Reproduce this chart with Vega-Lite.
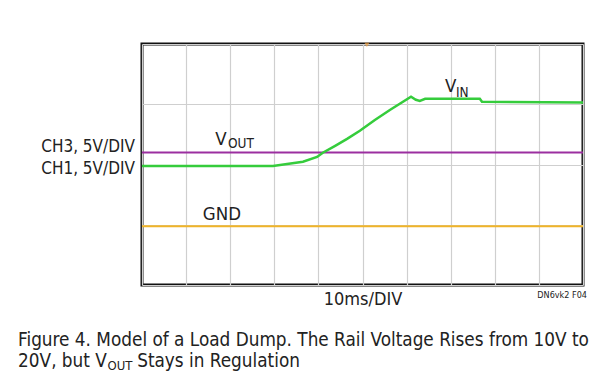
{
  "$schema": "https://vega.github.io/schema/vega-lite/v6.json",
  "width": 441,
  "height": 241,
  "autosize": {"type": "none"},
  "padding": {"left": 142, "top": 44, "right": 24, "bottom": 105},
  "background": "white",
  "config": {
    "view": {"stroke": "#111111", "strokeWidth": 3},
    "text": {"font": "'DejaVu Sans Condensed', 'Liberation Sans Narrow', sans-serif", "color": "#222222", "baseline": "alphabetic"}
  },
  "datasets": {
    "vin": [
      {"t": 0, "v": 3.95}, {"t": 2.97, "v": 3.95}, {"t": 3.29, "v": 4.02}, {"t": 3.65, "v": 4.09},
      {"t": 3.97, "v": 4.25}, {"t": 4.10, "v": 4.39}, {"t": 4.38, "v": 4.62}, {"t": 4.65, "v": 4.85},
      {"t": 4.94, "v": 5.12}, {"t": 5.28, "v": 5.48}, {"t": 5.62, "v": 5.81}, {"t": 6.10, "v": 6.25},
      {"t": 6.21, "v": 6.15}, {"t": 6.30, "v": 6.11}, {"t": 6.42, "v": 6.18}, {"t": 7.66, "v": 6.18},
      {"t": 7.71, "v": 6.08}, {"t": 10, "v": 6.06}
    ],
    "levels": [
      {"trace": "VOUT", "level": 4.4},
      {"trace": "GND", "level": 1.95}
    ],
    "trigger": [
      {"t": 5.1, "v": 7.97}
    ],
    "notes": [
      {"role": "channel", "x": -0.16, "y": 4.42, "text": "CH3, 5V/DIV"},
      {"role": "channel", "x": -0.16, "y": 3.69, "text": "CH1, 5V/DIV"},
      {"role": "label", "x": 1.66, "y": 4.65, "text": "V"},
      {"role": "sub", "x": 1.95, "y": 4.55, "text": "OUT"},
      {"role": "label", "x": 6.87, "y": 6.41, "text": "V"},
      {"role": "sub", "x": 7.12, "y": 6.25, "text": "IN"},
      {"role": "label", "x": 1.38, "y": 2.16, "text": "GND"},
      {"role": "axis", "x": 5.01, "y": -0.66, "text": "10ms/DIV"},
      {"role": "code", "x": 10.09, "y": -0.43, "text": "DN6vk2 F04"},
      {"role": "caption", "x": -2.81, "y": -2.03, "text": "Figure 4. Model of a Load Dump. The Rail Voltage Rises from 10V to"},
      {"role": "caption", "x": -2.81, "y": -2.72, "text": "20V, but V"},
      {"role": "capsub", "x": -0.78, "y": -2.82, "text": "OUT"},
      {"role": "caption", "x": -0.11, "y": -2.72, "text": "Stays in Regulation"}
    ]
  },
  "layer": [
    {
      "data": {"name": "levels"},
      "mark": {"type": "rule", "strokeWidth": 2},
      "encoding": {
        "y": {
          "field": "level", "type": "quantitative",
          "scale": {"domain": [0, 8], "nice": false, "zero": false},
          "axis": {"values": [0, 1, 2, 3, 4, 5, 6, 7, 8], "grid": true, "gridColor": "#cfcfcf", "gridWidth": 1.2, "labels": false, "ticks": false, "domain": false, "title": null}
        },
        "color": {
          "field": "trace", "type": "nominal",
          "scale": {"domain": ["VOUT", "GND"], "range": ["#9b2fa0", "#f0b428"]},
          "legend": null
        }
      }
    },
    {
      "data": {"name": "vin"},
      "mark": {"type": "line", "color": "#35cc3c", "strokeWidth": 2.5, "interpolate": "linear"},
      "encoding": {
        "x": {
          "field": "t", "type": "quantitative",
          "scale": {"domain": [0, 10], "nice": false, "zero": false},
          "axis": {"values": [0, 1, 2, 3, 4, 5, 6, 7, 8, 9, 10], "grid": true, "gridColor": "#cfcfcf", "gridWidth": 1.2, "labels": false, "ticks": false, "domain": false, "title": null}
        },
        "y": {"field": "v", "type": "quantitative"}
      }
    },
    {
      "data": {"name": "trigger"},
      "mark": {"type": "point", "shape": "triangle-down", "filled": true, "size": 25, "color": "#f0a040", "opacity": 0.7},
      "encoding": {"x": {"field": "t", "type": "quantitative"}, "y": {"field": "v", "type": "quantitative"}}
    },
    {
      "data": {"name": "notes"},
      "transform": [{"filter": "datum.role === 'channel'"}],
      "mark": {"type": "text", "align": "right", "fontSize": 17},
      "encoding": {"x": {"field": "x", "type": "quantitative"}, "y": {"field": "y", "type": "quantitative"}, "text": {"field": "text"}}
    },
    {
      "data": {"name": "notes"},
      "transform": [{"filter": "datum.role === 'label'"}],
      "mark": {"type": "text", "align": "left", "fontSize": 18.5},
      "encoding": {"x": {"field": "x", "type": "quantitative"}, "y": {"field": "y", "type": "quantitative"}, "text": {"field": "text"}}
    },
    {
      "data": {"name": "notes"},
      "transform": [{"filter": "datum.role === 'sub'"}],
      "mark": {"type": "text", "align": "left", "fontSize": 13.5},
      "encoding": {"x": {"field": "x", "type": "quantitative"}, "y": {"field": "y", "type": "quantitative"}, "text": {"field": "text"}}
    },
    {
      "data": {"name": "notes"},
      "transform": [{"filter": "datum.role === 'axis'"}],
      "mark": {"type": "text", "align": "center", "fontSize": 18},
      "encoding": {"x": {"field": "x", "type": "quantitative"}, "y": {"field": "y", "type": "quantitative"}, "text": {"field": "text"}}
    },
    {
      "data": {"name": "notes"},
      "transform": [{"filter": "datum.role === 'code'"}],
      "mark": {"type": "text", "align": "right", "fontSize": 9},
      "encoding": {"x": {"field": "x", "type": "quantitative"}, "y": {"field": "y", "type": "quantitative"}, "text": {"field": "text"}}
    },
    {
      "data": {"name": "notes"},
      "transform": [{"filter": "datum.role === 'caption'"}],
      "mark": {"type": "text", "align": "left", "fontSize": 18.8},
      "encoding": {"x": {"field": "x", "type": "quantitative"}, "y": {"field": "y", "type": "quantitative"}, "text": {"field": "text"}}
    },
    {
      "data": {"name": "notes"},
      "transform": [{"filter": "datum.role === 'capsub'"}],
      "mark": {"type": "text", "align": "left", "fontSize": 13},
      "encoding": {"x": {"field": "x", "type": "quantitative"}, "y": {"field": "y", "type": "quantitative"}, "text": {"field": "text"}}
    }
  ]
}
